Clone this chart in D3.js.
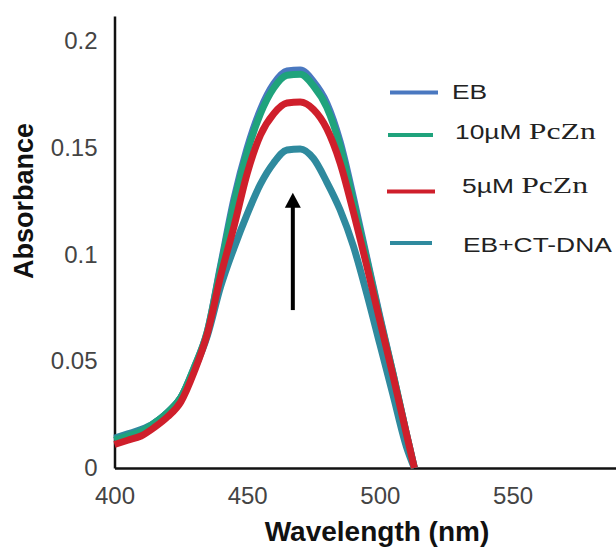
<!DOCTYPE html>
<html>
<head>
<meta charset="utf-8">
<script src="https://cdn.jsdelivr.net/npm/d3@7"></script>
<style>
  body { margin: 0; background: #fff; }
  svg { display: block; }
</style>
</head>
<body>
<div id="chart"></div>
<script>
const wavelengths = [400, 405, 410, 415, 420, 425, 430, 435, 440, 445, 450, 455, 460, 465, 470, 475, 480, 485, 490, 495, 500, 505, 510, 513];

const eb =       [0.013, 0.015, 0.017, 0.021, 0.026, 0.033, 0.047, 0.064, 0.095, 0.126, 0.150, 0.168, 0.180, 0.186, 0.1865, 0.181, 0.171, 0.153, 0.127, 0.099, 0.071, 0.044, 0.016, 0.000];
const pczn10 =   [0.013, 0.015, 0.017, 0.021, 0.026, 0.033, 0.047, 0.064, 0.094, 0.124, 0.148, 0.166, 0.178, 0.184, 0.1845, 0.179, 0.169, 0.151, 0.125, 0.098, 0.070, 0.044, 0.016, 0.000];
const pczn5 =    [0.011, 0.013, 0.015, 0.019, 0.024, 0.031, 0.045, 0.063, 0.090, 0.113, 0.138, 0.156, 0.166, 0.171, 0.1715, 0.168, 0.159, 0.143, 0.120, 0.095, 0.069, 0.043, 0.016, 0.000];
const ebCtDna =  [0.014, 0.016, 0.018, 0.021, 0.026, 0.033, 0.046, 0.062, 0.085, 0.103, 0.119, 0.133, 0.143, 0.149, 0.1495, 0.145, 0.134, 0.121, 0.104, 0.082, 0.058, 0.034, 0.010, 0.000];

const seriesNames = ["EB", "10µM PcZn", "5µM PcZn", "EB+CT-DNA"];
const xTicks = [400, 450, 500, 550];
const yTicks = [0, 0.05, 0.1, 0.15, 0.2];

const width = 616;
const height = 550;

const colors = {
  "EB": "#4a78c0",
  "10µM PcZn": "#1fa37c",
  "5µM PcZn": "#cf1f2b",
  "EB+CT-DNA": "#2f8a9e"
};

const series = [
  { name: "EB", values: eb },
  { name: "EB+CT-DNA", values: ebCtDna },
  { name: "10µM PcZn", values: pczn10 },
  { name: "5µM PcZn", values: pczn5 }
];

const x = d3.scaleLinear()
  .domain([400, 590])
  .range([114.5, 618.7]);

const y = d3.scaleLinear()
  .domain([0, 0.2118])
  .range([468, 16]);

const svg = d3.select("#chart")
  .append("svg")
  .attr("width", width)
  .attr("height", height);

// axes
const yAxis = d3.axisLeft(y)
  .tickValues(yTicks)
  .tickSize(0)
  .tickSizeOuter(0)
  .tickPadding(17)
  .tickFormat(d => d === 0 ? "0" : String(d));

const xAxis = d3.axisBottom(x)
  .tickValues(xTicks)
  .tickSize(0)
  .tickSizeOuter(0)
  .tickPadding(19);

const gy = svg.append("g")
  .attr("transform", `translate(${x(400)},0)`)
  .call(yAxis);

const gx = svg.append("g")
  .attr("transform", `translate(0,${y(0)})`)
  .call(xAxis);

[gx, gy].forEach(g => {
  g.select(".domain")
    .attr("stroke", "#111")
    .attr("stroke-width", 2.5);
  g.selectAll(".tick text")
    .attr("fill", "#444")
    .style("font-family", "Liberation Sans, Arial, sans-serif")
    .style("font-size", "24px");
});

// curves
const line = d3.line()
  .x((d, i) => x(wavelengths[i]))
  .y(d => y(d))
  .curve(d3.curveMonotoneX);

svg.append("g")
  .selectAll("path")
  .data(series)
  .enter()
  .append("path")
  .attr("d", d => line(d.values))
  .attr("fill", "none")
  .attr("stroke", d => colors[d.name])
  .attr("stroke-width", 7)
  .attr("stroke-linejoin", "round");

// arrow
const arrowX = x(467.2);
const arrowTop = y(0.129);
const arrowBottom = y(0.074);
svg.append("line")
  .attr("x1", arrowX)
  .attr("x2", arrowX)
  .attr("y1", arrowBottom)
  .attr("y2", arrowTop + 12)
  .attr("stroke", "#000")
  .attr("stroke-width", 4);
svg.append("path")
  .attr("d", `M${arrowX},${arrowTop} L${arrowX - 8},${arrowTop + 15} L${arrowX + 8},${arrowTop + 15} Z`)
  .attr("fill", "#000");

// legend
const legendRows = [
  { name: "EB", y: 92.5, x1: 390, x2: 438, textX: 452, base: 99 },
  { name: "10µM PcZn", y: 135, x1: 388, x2: 433, textX: 455, base: 139 },
  { name: "5µM PcZn", y: 191.5, x1: 387, x2: 435, textX: 462, base: 193 },
  { name: "EB+CT-DNA", y: 243, x1: 390, x2: 432, textX: 463, base: 252 }
];

const legend = svg.append("g").attr("class", "legend");

legend.selectAll("line")
  .data(legendRows)
  .enter()
  .append("line")
  .attr("x1", d => d.x1)
  .attr("x2", d => d.x2)
  .attr("y1", d => d.y)
  .attr("y2", d => d.y)
  .attr("stroke", d => colors[d.name])
  .attr("stroke-width", 4);

const legendText = legend.selectAll("text")
  .data(legendRows)
  .enter()
  .append("text")
  .attr("transform", d => `translate(${d.textX},${d.base}) scale(1.32,1)`)
  .attr("fill", "#222")
  .style("font-family", "Liberation Sans, Arial, sans-serif")
  .style("font-size", "20px");

legendText.each(function(d) {
  const t = d3.select(this);
  const m = d.name.match(/^(.*?)(PcZn)$/);
  if (m) {
    t.append("tspan").text(m[1] + " ");
    t.append("tspan")
      .style("font-family", "Liberation Serif, Times New Roman, serif")
      .style("font-size", "24px")
      .text(m[2]);
  } else {
    t.text(d.name);
  }
});

// axis titles
svg.append("text")
  .attr("transform", `translate(33,201) rotate(-90)`)
  .attr("text-anchor", "middle")
  .style("font-family", "Liberation Sans, Arial, sans-serif")
  .style("font-weight", "bold")
  .style("font-size", "27px")
  .attr("fill", "#111")
  .text("Absorbance");

svg.append("text")
  .attr("x", 377)
  .attr("y", 541)
  .attr("text-anchor", "middle")
  .style("font-family", "Liberation Sans, Arial, sans-serif")
  .style("font-weight", "bold")
  .style("font-size", "28px")
  .attr("fill", "#111")
  .text("Wavelength (nm)");
</script>
</body>
</html>
